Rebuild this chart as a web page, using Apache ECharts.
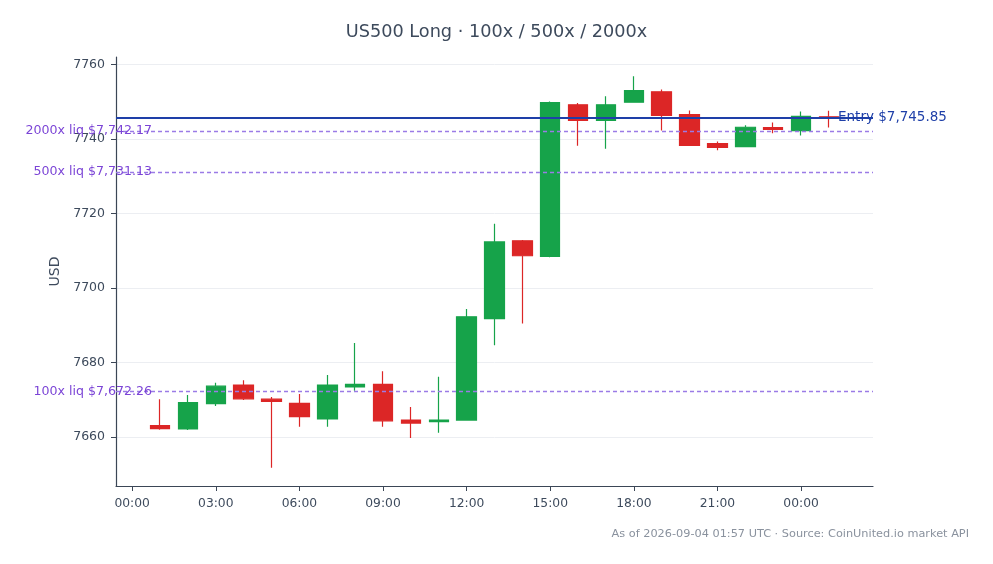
<!DOCTYPE html>
<html>
<head>
<meta charset="utf-8">
<title>US500 Long</title>
<script src="https://cdn.jsdelivr.net/npm/echarts@6.0.0/dist/echarts.min.js"></script>
<style>
    html, body { margin: 0; padding: 0; background: #fff; }
    #chart { width: 993px; height: 564px; }
</style>
</head>
<body>
<div id="chart"></div>
<script>
    // hourly slots, 2026-09-03 00:00 .. 2026-09-04 02:00 UTC (x value = slot index)
    const hours = [
        "09-03 00:00", "09-03 01:00", "09-03 02:00", "09-03 03:00", "09-03 04:00", "09-03 05:00",
        "09-03 06:00", "09-03 07:00", "09-03 08:00", "09-03 09:00", "09-03 10:00", "09-03 11:00",
        "09-03 12:00", "09-03 13:00", "09-03 14:00", "09-03 15:00", "09-03 16:00", "09-03 17:00",
        "09-03 18:00", "09-03 19:00", "09-03 20:00", "09-03 21:00", "09-03 22:00", "09-03 23:00",
        "09-04 00:00", "09-04 01:00", "09-04 02:00"
    ];
    const tickSlots = [0, 3, 6, 9, 12, 15, 18, 21, 24];

    // candles start at 01:00 (slot 1)
    const firstCandleSlot = 1;
    const opens = [7663.1, 7662.2, 7669.0, 7674.0, 7670.2, 7669.1, 7664.9, 7673.5, 7674.2, 7664.6, 7664.2, 7664.6, 7691.8,
        7712.7, 7708.5, 7749.2, 7745.0, 7749.9, 7752.7, 7746.6, 7738.8, 7738.0, 7743.1, 7742.3, 7746.0];
    const closes = [7662.3, 7669.3, 7673.7, 7670.3, 7669.6, 7665.5, 7674.0, 7674.2, 7664.4, 7663.8, 7664.6, 7692.3, 7712.4,
        7708.7, 7749.8, 7745.0, 7749.2, 7753.0, 7746.4, 7738.3, 7737.8, 7743.2, 7742.6, 7746.1, 7745.8];
    const lows = [7662.0, 7661.9, 7668.4, 7670.0, 7651.8, 7662.8, 7662.8, 7672.5, 7662.8, 7659.8, 7661.2, 7664.5, 7684.7,
        7690.5, 7708.3, 7738.2, 7737.4, 7749.8, 7742.3, 7738.2, 7737.0, 7737.9, 7741.6, 7741.0, 7743.1];
    const highs = [7670.2, 7671.3, 7674.6, 7675.3, 7670.8, 7671.6, 7676.7, 7685.3, 7677.7, 7668.1, 7676.2, 7694.4, 7717.3,
        7712.9, 7750.1, 7749.7, 7751.5, 7756.9, 7753.3, 7747.7, 7739.4, 7743.7, 7744.5, 7747.4, 7747.6];

    const entryPrice = 7745.85;
    const liqLeverage = ["2000x", "500x", "100x"];
    const liqPrices = [7742.17, 7731.13, 7672.26];

    const xMin = -0.58;
    const xMax = 26.58;
    const yMin = 7646.9;
    const yMax = 7762.05;

    const green = "#16a34a";
    const red = "#dc2626";
    const axisColor = "#3b4656";
    const textColor = "#3d4a5c";
    const fontFamily = "DejaVu Sans, sans-serif";

    const fmtPrice = (v) => "$" + v.toLocaleString("en-US", { minimumFractionDigits: 2, maximumFractionDigits: 2 });

    const buildCandles = () => opens.map((o, k) => [firstCandleSlot + k, o, closes[k], lows[k], highs[k]]);

    const buildOption = () => {
        const markData = [
            {
                yAxis: entryPrice,
                lineStyle: { color: "#1e3fa8", width: 2, type: "solid" },
                label: {
                    show: true,
                    position: "end",
                    formatter: "Entry " + fmtPrice(entryPrice),
                    color: "#1e3fa8",
                    fontSize: 13.5,
                    fontFamily,
                    offset: [-40, 0]
                }
            }
        ];
        liqPrices.forEach((p, i) => {
            markData.push({
                yAxis: p,
                lineStyle: { color: "#9b7be6", width: 1.3, type: [4, 3] },
                label: {
                    show: true,
                    position: "start",
                    formatter: liqLeverage[i] + " liq " + fmtPrice(p),
                    color: "#7b44d6",
                    fontSize: 12.6,
                    fontFamily,
                    offset: [41, 0]
                }
            });
        });

        return {
            animation: false,
            backgroundColor: "#fff",
            title: {
                text: "US500 Long · 100x / 500x / 2000x",
                left: "center",
                top: 18,
                textStyle: { color: textColor, fontSize: 17.7, fontWeight: "normal", fontFamily }
            },
            graphic: [
                {
                    type: "text",
                    right: 24,
                    top: 529,
                    style: {
                        text: "As of 2026-09-04 01:57 UTC · Source: CoinUnited.io market API",
                        fill: "#8a929e",
                        font: "11.3px " + fontFamily
                    }
                }
            ],
            grid: { left: 116, right: 120, top: 57, bottom: 78 },
            xAxis: {
                type: "value",
                min: xMin,
                max: xMax,
                axisLine: { onZero: false, lineStyle: { color: axisColor, width: 1.2 } },
                axisTick: { show: true, customValues: tickSlots, length: 5, lineStyle: { color: axisColor } },
                axisLabel: {
                    customValues: tickSlots,
                    margin: 12,
                    color: textColor,
                    fontSize: 12.3,
                    fontFamily,
                    formatter: (v) => hours[Math.round(v)].slice(-5)
                },
                splitLine: { show: false }
            },
            yAxis: {
                type: "value",
                min: yMin,
                max: yMax,
                name: "USD",
                nameLocation: "middle",
                nameGap: 45,
                nameTextStyle: { color: textColor, fontSize: 14, fontFamily },
                axisLine: { show: true, onZero: false, lineStyle: { color: axisColor, width: 1.2 } },
                axisTick: { show: true, length: 5, lineStyle: { color: axisColor } },
                axisLabel: {
                    color: textColor,
                    fontSize: 12.5,
                    fontFamily,
                    margin: 11,
                    showMinLabel: false,
                    showMaxLabel: false,
                    formatter: (v) => String(v)
                },
                splitLine: { showMinLine: false, showMaxLine: false, lineStyle: { color: "#eceef2", width: 1 } }
            },
            series: [
                {
                    type: "candlestick",
                    data: buildCandles(),
                    encode: { x: 0, y: [1, 2, 3, 4] },
                    barWidth: 20,
                    itemStyle: {
                        color: green,
                        color0: red,
                        borderColor: green,
                        borderColor0: red,
                        borderColorDoji: red,
                        borderWidth: 1.2
                    },
                    markLine: {
                        silent: true,
                        symbol: "none",
                        animation: false,
                        data: markData
                    }
                }
            ]
        };
    };

    const chart = echarts.init(document.getElementById("chart"), null, { renderer: "canvas" });
    chart.setOption(buildOption());
</script>
</body>
</html>
